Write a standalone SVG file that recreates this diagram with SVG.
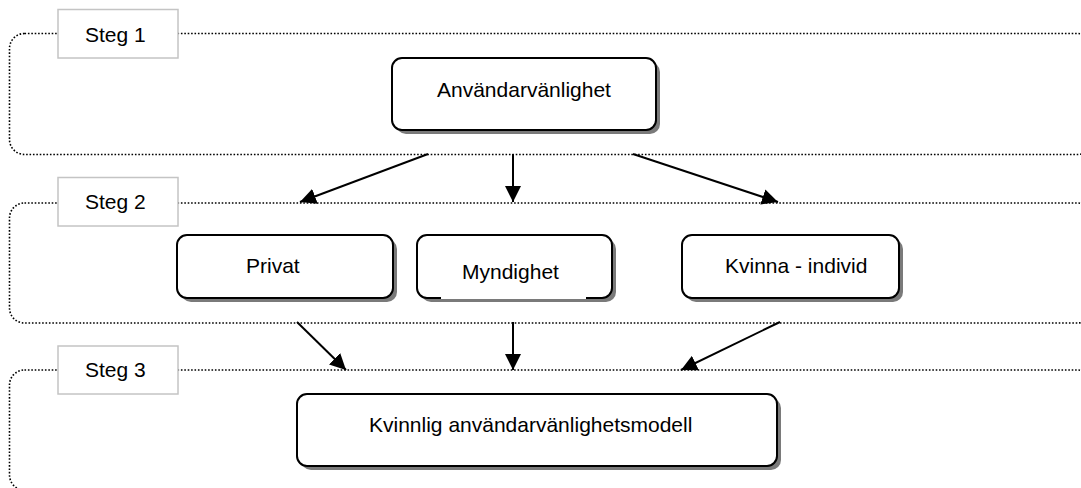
<svg xmlns="http://www.w3.org/2000/svg" width="1081" height="488" viewBox="0 0 1081 488">
  <defs>
    <marker id="ah" viewBox="0 0 10 10" refX="10" refY="5" markerWidth="8" markerHeight="8" markerUnits="strokeWidth" orient="auto">
      <path d="M0,0 L10,5 L0,10 Z" fill="#000"/>
    </marker>
  </defs>
  <style>
    .panel { fill: none; stroke: #000; stroke-width: 1.6; stroke-dasharray: 1.6 1.8; }
    .lbl { fill: #fff; stroke: #c4c4c4; stroke-width: 1.5; }
    .box { fill: #fff; stroke: #000; stroke-width: 2; }
    .shadow { fill: #7a7a7a; }
    .t { font-family: "Liberation Sans", Arial, sans-serif; font-size: 21px; fill: #000; }
    .conn { stroke: #000; stroke-width: 2; fill: none; marker-end: url(#ah); }
  </style>
  <rect width="1081" height="488" fill="#fff"/>

  <g id="steg1">
    <rect class="panel" x="9.5" y="33.5" width="1083" height="121" rx="15"/>
    <rect class="lbl" x="58" y="9.5" width="120" height="48.5"/>
    <text class="t" x="85" y="42">Steg 1</text>
  </g>
  <g id="steg2">
    <rect class="panel" x="9.5" y="203" width="1083" height="120" rx="15"/>
    <rect class="lbl" x="58" y="177.5" width="120" height="48.5"/>
    <text class="t" x="85" y="209">Steg 2</text>
  </g>
  <g id="steg3">
    <rect class="panel" x="9.5" y="370" width="1083" height="120" rx="15"/>
    <rect class="lbl" x="58" y="346" width="120" height="48"/>
    <text class="t" x="85" y="377">Steg 3</text>
  </g>

  <g id="anvandarvanlighet">
    <rect class="shadow" x="396" y="62" width="264" height="72" rx="10"/>
    <rect class="box" x="392" y="58" width="264" height="72" rx="10"/>
    <text class="t" x="437" y="97">Användarvänlighet</text>
  </g>
  <g id="privat">
    <rect class="shadow" x="181" y="239" width="216" height="63" rx="10"/>
    <rect class="box" x="177" y="235" width="216" height="63" rx="10"/>
    <text class="t" x="246" y="273">Privat</text>
  </g>
  <g id="myndighet">
    <rect class="shadow" x="421" y="239" width="195" height="63" rx="10"/>
    <rect class="box" x="417" y="235" width="195" height="63" rx="10"/>
    <rect x="441" y="296" width="145" height="3" fill="#fff"/>
    <text class="t" x="462" y="279">Myndighet</text>
  </g>
  <g id="kvinna-individ">
    <rect class="shadow" x="686" y="239" width="217" height="63" rx="10"/>
    <rect class="box" x="682" y="235" width="217" height="63" rx="10"/>
    <text class="t" x="725" y="273">Kvinna - individ</text>
  </g>
  <g id="modell">
    <rect class="shadow" x="301" y="398" width="480" height="72" rx="10"/>
    <rect class="box" x="297" y="394" width="480" height="72" rx="10"/>
    <text class="t" x="369" y="432">Kvinnlig användarvänlighetsmodell</text>
  </g>

  <g id="connectors">
    <line class="conn" x1="428" y1="154" x2="300" y2="202"/>
    <line class="conn" x1="513" y1="154" x2="513" y2="202"/>
    <line class="conn" x1="633" y1="154" x2="778" y2="202"/>
    <line class="conn" x1="297" y1="322" x2="346" y2="370"/>
    <line class="conn" x1="513" y1="322" x2="513" y2="370"/>
    <line class="conn" x1="780" y1="322" x2="681" y2="370"/>
  </g>
</svg>
